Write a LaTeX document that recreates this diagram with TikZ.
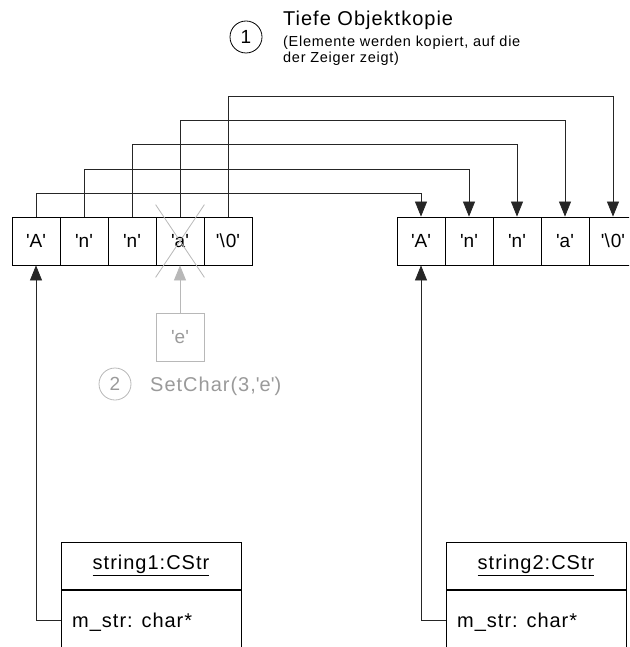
\documentclass[tikz,border=0pt]{standalone}
\usepackage{fontspec}
\setmainfont{Liberation Sans}[LetterSpace=5]
\usetikzlibrary{arrows.meta}
\definecolor{lightg}{HTML}{B8B8B8}
\definecolor{textg}{HTML}{9A9A9A}
\begin{document}
\begin{tikzpicture}[x=1pt,y=-1pt,
  cell/.style={draw=black, line width=0.8pt, minimum width=48pt, minimum height=48pt, inner sep=0pt, font=\fontsize{19}{21}\selectfont},
  conn/.style={draw=black!85, line width=0.7pt},
  arr/.style={conn, -{Triangle[width=12pt,length=15pt]}},
  numcircle/.style={circle, draw=black, line width=0.8pt, minimum size=32pt, inner sep=0pt, font=\fontsize{19}{21}\selectfont},
  classbox/.style={draw=black, line width=1pt, minimum width=180pt, inner sep=0pt},
  label/.style={anchor=base west, inner sep=0pt, font=\fontsize{20}{22}\selectfont},
  small/.style={anchor=base west, inner sep=0pt, font=\fontsize{14.5}{17}\selectfont},
  ghost/.style={draw=lightg, line width=0.8pt},
]
\clip (0,0) rectangle (629,647);
% title
\node[numcircle] (c1) at (246,37) {1};
\node[label] (t1) at (283,26) {Tiefe Objektkopie};
\node[small] (t2) at (283,47) {(Elemente werden kopiert, auf die};
\node[small] (t3) at (283,63) {der Zeiger zeigt)};
% left array
\node[cell] (l1) at (36,241) {\textquotesingle A\textquotesingle};
\node[cell] (l2) at (84,241) {\textquotesingle n\textquotesingle};
\node[cell] (l3) at (132,241) {\textquotesingle n\textquotesingle};
\node[cell] (l4) at (180,241) {\textquotesingle a\textquotesingle};
\node[cell] (l5) at (228,241) {\textquotesingle\textbackslash 0\textquotesingle};
% right array
\node[cell] (r1) at (421,241) {\textquotesingle A\textquotesingle};
\node[cell] (r2) at (469,241) {\textquotesingle n\textquotesingle};
\node[cell] (r3) at (517,241) {\textquotesingle n\textquotesingle};
\node[cell] (r4) at (565,241) {\textquotesingle a\textquotesingle};
\node[cell] (r5) at (613,241) {\textquotesingle\textbackslash 0\textquotesingle};
% copy connectors
\draw[arr] (l1.north) -- ++(0,-23) -| (r1.north);
\draw[arr] (l2.north) -- ++(0,-47) -| (r2.north);
\draw[arr] (l3.north) -- ++(0,-72) -| (r3.north);
\draw[arr] (l4.north) -- ++(0,-96) -| (r4.north);
\draw[arr] (l5.north) -- ++(0,-120) -| (r5.north);
% cross over 'a'
\draw[ghost] ([yshift=12pt]l4.north west) -- ([yshift=-12pt]l4.south east);
\draw[ghost] ([yshift=-12pt]l4.south west) -- ([yshift=12pt]l4.north east);
% SetChar
\node[cell, draw=lightg, text=textg] (e) at (180,337) {\textquotesingle e\textquotesingle};
\draw[ghost, -{Triangle[width=12pt,length=15pt]}, fill=lightg] (e.north) -- (l4.south);
\node[numcircle, draw=lightg, text=textg] (c2) at (115,384) {2};
\node[label, text=textg] (sc) at (150,391) {SetChar(3,\textquotesingle e\textquotesingle)};
% class boxes
\node[classbox, minimum height=47pt, font=\fontsize{20}{22}\selectfont] (s1h) at (151,565.5) {\underline{string1:CStr}};
\node[classbox, minimum height=80pt, anchor=north] (s1b) at (s1h.south) {};
\node[label] (s1m) at (72,627) {m\_str: char*};
\node[classbox, minimum height=47pt, font=\fontsize{20}{22}\selectfont] (s2h) at (536,565.5) {\underline{string2:CStr}};
\node[classbox, minimum height=80pt, anchor=north] (s2b) at (s2h.south) {};
\node[label] (s2m) at (457,627) {m\_str: char*};
\coordinate (p1) at (61,620);
\coordinate (p2) at (446,620);
\draw[arr] (p1) -| (l1.south);
\draw[arr] (p2) -| (r1.south);
\end{tikzpicture}
\end{document}
